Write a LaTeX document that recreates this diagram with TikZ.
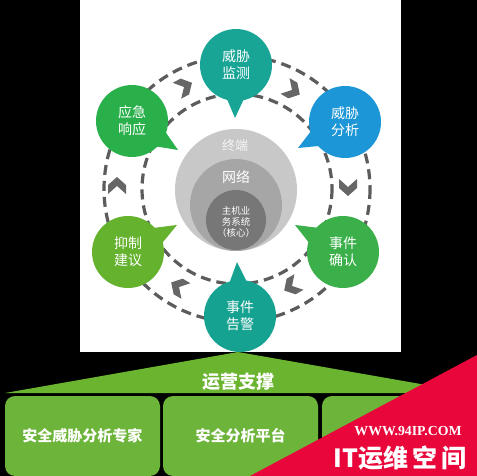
\documentclass[tikz,border=0pt]{standalone}
\usepackage{fontspec}
\setmainfont{Noto Sans CJK SC}
\newfontfamily\wmfont{Liberation Serif}
\usetikzlibrary{calc}
\definecolor{cTop}{HTML}{19A595}
\definecolor{cBlue}{HTML}{1C96D6}
\definecolor{cResp}{HTML}{2AB04B}
\definecolor{cSup}{HTML}{64B22E}
\definecolor{cConf}{HTML}{3BB04A}
\definecolor{cAlarm}{HTML}{16A290}
\definecolor{ringc}{HTML}{5C5C5C}
\definecolor{chevc}{HTML}{666666}
\definecolor{gOut}{HTML}{C8C8C8}
\definecolor{gMid}{HTML}{A6A6A6}
\definecolor{gCore}{HTML}{777777}
\definecolor{roofc}{HTML}{6AB42F}
\definecolor{boxc}{HTML}{6CB43A}
\definecolor{wmred}{HTML}{E8063A}
\newcommand\chevron[2]{\fill[chevc,shift={#1},rotate=#2] (-8,-9) -- (1,-9) -- (9,0) -- (1,9) -- (-8,9) -- (0,0) -- cycle;}
\newcommand\bubtail[3]{\fill[#3] ($(#1.center)!30pt!22:(#2)$) -- (#2) -- ($(#1.center)!30pt!-22:(#2)$) -- cycle;}
\begin{document}
\begin{tikzpicture}[x=1pt,y=-1pt,
  ring/.style={draw=ringc, line width=3.2pt, dash pattern=on 10pt off 6pt},
  bubble/.style={circle, minimum size=72pt, inner sep=0pt, text=white, font=\fontsize{14}{17}\selectfont, align=center},
  disc/.style={circle, inner sep=0pt},
  lbl/.style={text=white, align=center, inner sep=0pt},
  boxstyle/.style={fill=boxc, rounded corners=10pt, inner sep=0pt, text=white, font=\bfseries\fontsize{15}{18}\selectfont}]
\useasboundingbox (0,0) rectangle (477,476);
\fill[black] (0,0) rectangle (477,476);
\fill[white] (80,0) rectangle (401,352);
% rings
\coordinate (c) at (237,189);
\draw[ring] (c) circle[radius=133];
\draw[ring] (c) circle[radius=95];
% chevrons (clockwise)
\chevron{(184,87)}{28}
\chevron{(292,90)}{-30}
\chevron{(348,187)}{-90}
\chevron{(292,286)}{-150}
\chevron{(179,287)}{150}
\chevron{(117,186)}{90}
% central discs
\node[disc, fill=gOut, minimum size=122pt] (outer) at (236,190) {};
\node[disc, fill=gMid, minimum size=92pt] (mid) at (236,205) {};
\node[disc, fill=gCore, minimum size=60pt] (core) at (236,220) {};
\node[lbl, text=white!92!gray, font=\fontsize{13}{15}\selectfont] (lterm) at (235,146) {终端};
\node[lbl, font=\fontsize{14}{16}\selectfont] (lnet) at (236,177) {网络};
\node[lbl, font=\fontsize{9.5}{11}\selectfont] (lcore) at (236,222) {主机业\\务系统\\（核心）};
% bubbles
\node[bubble, fill=cTop] (mon) at (236,65) {威胁\\监测};
\node[bubble, fill=cBlue] (ana) at (345,122) {威胁\\分析};
\node[bubble, fill=cResp] (resp) at (132,121) {应急\\响应};
\node[bubble, fill=cSup] (sup) at (128,252) {抑制\\建议};
\node[bubble, fill=cConf] (conf) at (343,252) {事件\\确认};
\node[bubble, fill=cAlarm] (alarm) at (240,316) {事件\\告警};
\coordinate (tmon) at (235,118);
\coordinate (tana) at (298,148);
\coordinate (tresp) at (178,150);
\coordinate (tsup) at (177,225);
\coordinate (tconf) at (295,225);
\coordinate (talarm) at (237,262);
\bubtail{mon}{tmon}{cTop}
\bubtail{ana}{tana}{cBlue}
\bubtail{resp}{tresp}{cResp}
\bubtail{sup}{tsup}{cSup}
\bubtail{conf}{tconf}{cConf}
\bubtail{alarm}{talarm}{cAlarm}
% bottom: roof and boxes
\fill[roofc] (5,393) -- (238,352) -- (472,393) -- cycle;
\node[lbl, font=\bfseries\fontsize{18}{20}\selectfont] (roof) at (238,382) {运营支撑};
\node[boxstyle, minimum width=155pt, minimum height=80pt] (b1) at (82.5,436) {安全威胁分析专家};
\node[boxstyle, minimum width=155pt, minimum height=80pt] (b2) at (240.5,436) {安全分析平台};
\node[boxstyle, minimum width=160pt, minimum height=80pt] (b3) at (402,436) {};
% watermark
\fill[wmred] (250,476) -- (477,355) -- (477,476) -- cycle;
\node[lbl, font=\wmfont\bfseries\fontsize{13.8}{15}\selectfont] (wm1) at (408,431) {WWW.94IP.COM};
\node[lbl, font=\bfseries\fontsize{25}{27}\selectfont] (wm2) at (400,458) {IT运维\,空\,间};
\end{tikzpicture}
\end{document}
